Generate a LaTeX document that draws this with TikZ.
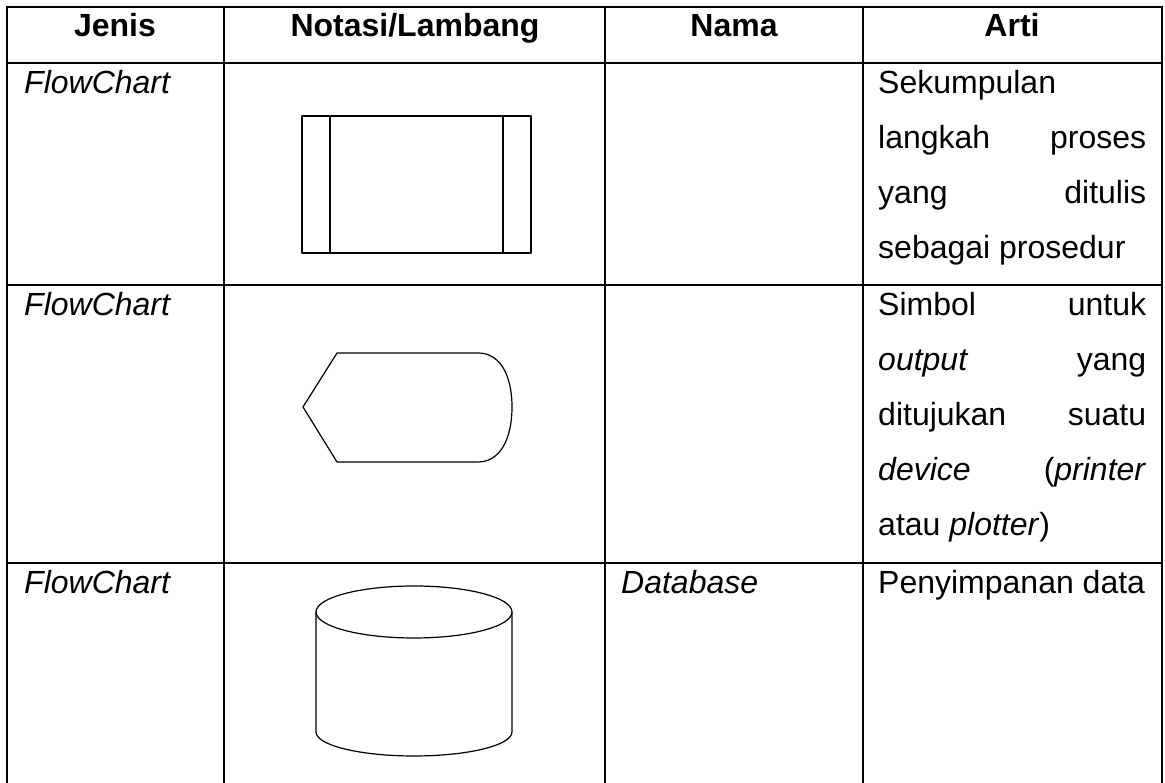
\documentclass[tikz,border=0pt]{standalone}
\usepackage{fontspec}
\setmainfont{Liberation Sans}
\usetikzlibrary{calc}

\tikzset{
  garis/.style={black, line width=1.6pt, line cap=rect},
  simbol/.style={black, line width=1.2pt, line join=round},
  teks/.style={inner sep=0pt, anchor=base west, font=\fontsize{32}{38}\selectfont},
  judul/.style={inner sep=0pt, anchor=base, font=\fontsize{32}{38}\selectfont\bfseries}
}
\newcommand{\rata}[1]{\makebox[268pt][s]{#1}}

\begin{document}
\begin{tikzpicture}[x=1pt,y=1pt]
\useasboundingbox (0,0) rectangle (1165,783);
% tabel
\draw[garis] (7,0) -- (7,776) -- (1162,776) -- (1162,0);
\foreach \y in {720,498,220} \draw[garis] (7,\y) -- (1162,\y);
\foreach \x in {224,605,863} \draw[garis] (\x,0) -- (\x,776);
% kepala
\node[judul] (jenis) at (115,746) {Jenis};
\node[judul] (notasi) at (415,746) {Notasi/Lambang};
\node[judul] (nama) at (734,746) {Nama};
\node[judul] (arti) at (1012,746) {Arti};
\foreach \y/\n in {689/fc1,467/fc2,189/fc3} \node[teks] (\n) at (24,\y) {\itshape FlowChart};
% predefined process
\draw[simbol] (302,667) rectangle (531,530);
\draw[simbol] (330,667) -- (330,530);
\draw[simbol] (503,667) -- (503,530);
% display
\draw[simbol] (303,376) -- (337,430) -- (478,430)
  .. controls (500,430) and (512,408) .. (512,376)
  .. controls (512,344) and (500,321) .. (478,321) -- (337,321) -- cycle;
% database
\draw[simbol] (414,171) ellipse [x radius=98, y radius=26];
\draw[simbol] (316,171) -- (316,51) arc [start angle=180, end angle=360, x radius=98, y radius=24] -- (512,171);
\node[teks] (db) at (621,189) {\itshape Database};
% arti
\node[teks] (a1) at (878,689) {Sekumpulan};
\node[teks] (a2) at (878,634) {\rata{langkah proses}};
\node[teks] (a3) at (878,579) {\rata{yang ditulis}};
\node[teks] (a4) at (878,524) {sebagai prosedur};
\node[teks] (b1) at (878,467) {\rata{Simbol untuk}};
\node[teks] (b2) at (878,412) {\rata{\textit{output} yang}};
\node[teks] (b3) at (878,357) {\rata{ditujukan suatu}};
\node[teks] (b4) at (878,302) {\rata{\textit{device} (\textit{printer}}};
\node[teks] (b5) at (878,247) {atau \textit{plotter})};
\node[teks] (c1) at (878,189) {Penyimpanan data};
\end{tikzpicture}
\end{document}
